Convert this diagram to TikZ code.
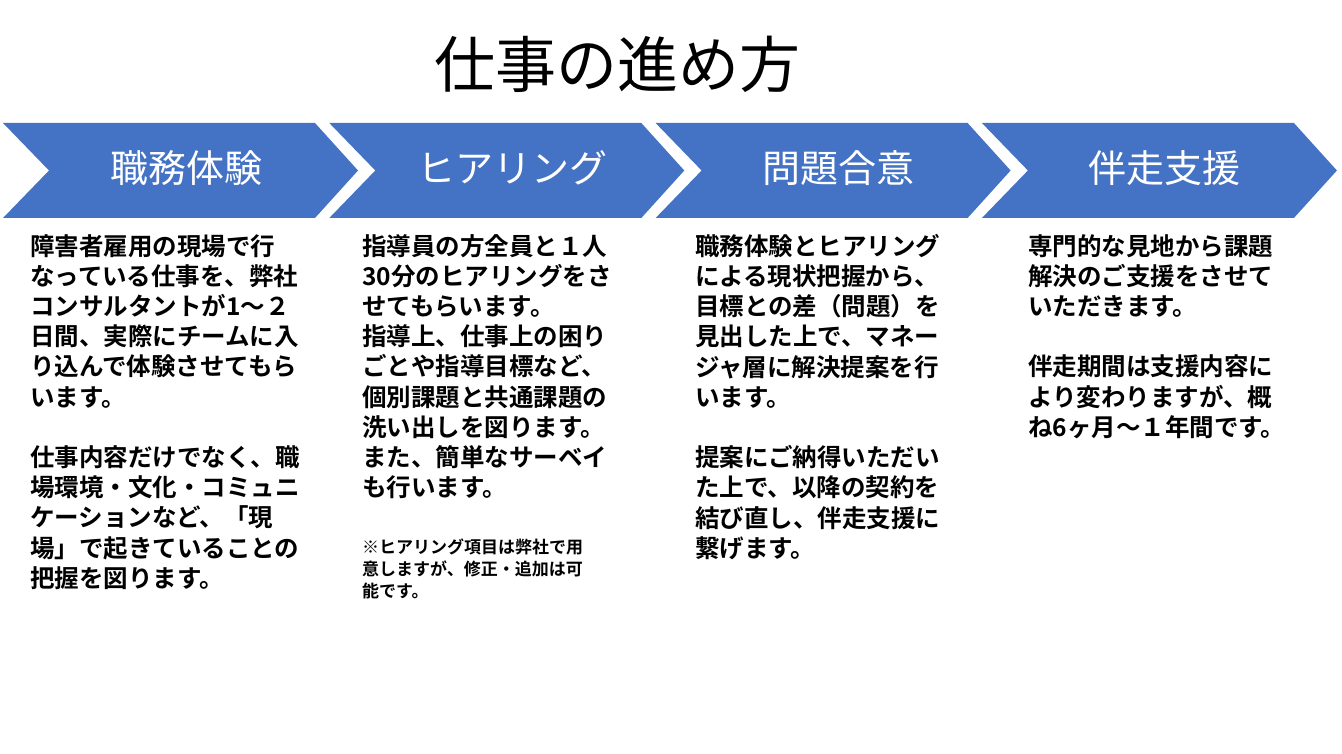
\documentclass[tikz,border=0pt]{standalone}
\usepackage{fontspec}
\setmainfont{Noto Sans CJK JP}
\newfontfamily\jpb[BoldFont=*]{Noto Sans CJK JP Bold}
\begin{document}
\begin{tikzpicture}[x=1pt,y=-1pt,
  chev/.style={fill=chevblue,draw=none},
  head/.style={text=white,font=\fontsize{38}{42}\selectfont,anchor=center},
  body/.style={anchor=north west,align=left,inner sep=0pt,font=\jpb\fontsize{24.5}{30.2}\selectfont},
  note/.style={anchor=north west,align=left,inner sep=0pt,font=\jpb\fontsize{17}{22}\selectfont}]
\definecolor{chevblue}{HTML}{4472C4}
\useasboundingbox (0,0) rectangle (1342,754);
\node[font=\fontsize{61}{66}\selectfont] (title) at (617,64) {仕事の進め方};
\foreach \i/\t in {0/職務体験,1/ヒアリング,2/問題合意,3/伴走支援}{
  \pgfmathsetmacro{\xo}{3+326.3*\i}
  \fill[chevblue] (\xo,123) -- (\xo+312,123) -- (\xo+355,170.5) -- (\xo+312,218) -- (\xo,218) -- (\xo+46,170.5) -- cycle;
  \node[head] (h\i) at (\xo+183,168) {\t};
}
\node[body] (c0) at (30,234) {障害者雇用の現場で行\\なっている仕事を、弊社\\コンサルタントが1～２\\日間、実際にチームに入\\り込んで体験させてもら\\います。\\[30.2pt]仕事内容だけでなく、職\\場環境・文化・コミュニ\\ケーションなど、「現\\場」で起きていることの\\把握を図ります。};
\node[body] (c1) at (362,234) {指導員の方全員と１人\\30分のヒアリングをさ\\せてもらいます。\\指導上、仕事上の困り\\ごとや指導目標など、\\個別課題と共通課題の\\洗い出しを図ります。\\また、簡単なサーベイ\\も行います。};
\node[note] (n1) at (362,539) {※ヒアリング項目は弊社で用\\意しますが、修正・追加は可\\能です。};
\node[body] (c2) at (695,234) {職務体験とヒアリング\\による現状把握から、\\目標との差（問題）を\\見出した上で、マネー\\ジャ層に解決提案を行\\います。\\[30.2pt]提案にご納得いただい\\た上で、以降の契約を\\結び直し、伴走支援に\\繋げます。};
\node[body] (c3) at (1028,234) {専門的な見地から課題\\解決のご支援をさせて\\いただきます。\\[30.2pt]伴走期間は支援内容に\\より変わりますが、概\\ね6ヶ月～１年間です。};
\end{tikzpicture}
\end{document}
